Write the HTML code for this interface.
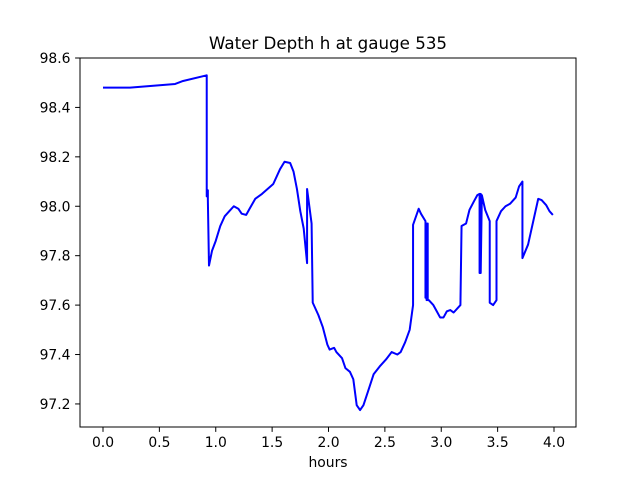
<!DOCTYPE html>
<html><head><meta charset="utf-8"><style>
body{margin:0;background:#fff;}
svg text{font-family:"DejaVu Sans","Liberation Sans",sans-serif;}
</style></head><body>
<svg id="c" width="640" height="480" xmlns="http://www.w3.org/2000/svg"></svg>
<script>
const hours=[0,0.24,0.64,0.71,0.92,0.92,0.93,0.93,0.94,0.967,1.0,1.04,1.08,1.12,1.16,1.2,1.23,1.27,1.30,1.35,1.41,1.51,1.57,1.61,1.66,1.69,1.72,1.75,1.78,1.81,1.81,1.85,1.86,1.91,1.95,1.99,2.01,2.05,2.07,2.12,2.15,2.19,2.22,2.25,2.28,2.31,2.35,2.40,2.46,2.51,2.56,2.61,2.64,2.68,2.72,2.75,2.75,2.80,2.82,2.86,2.86,2.87,2.87,2.88,2.88,2.89,2.93,2.96,2.99,3.02,3.05,3.08,3.11,3.17,3.18,3.22,3.25,3.29,3.32,3.34,3.34,3.35,3.35,3.36,3.39,3.43,3.43,3.46,3.49,3.49,3.53,3.57,3.61,3.66,3.69,3.72,3.72,3.77,3.86,3.89,3.93,3.96,3.99];
const depth=[98.48,98.48,98.495,98.507,98.53,98.04,98.065,98.025,97.76,97.82,97.86,97.92,97.96,97.98,98.0,97.99,97.97,97.965,97.99,98.03,98.05,98.09,98.15,98.18,98.175,98.14,98.07,97.98,97.91,97.77,98.07,97.93,97.61,97.56,97.51,97.44,97.42,97.427,97.41,97.385,97.345,97.33,97.30,97.195,97.175,97.195,97.25,97.32,97.355,97.38,97.41,97.40,97.41,97.45,97.50,97.60,97.925,97.99,97.97,97.94,97.63,97.93,97.62,97.93,97.62,97.62,97.60,97.575,97.55,97.55,97.575,97.58,97.57,97.60,97.92,97.93,97.985,98.02,98.045,98.05,97.73,98.05,97.73,98.045,97.985,97.94,97.61,97.60,97.62,97.94,97.98,98.0,98.01,98.035,98.08,98.1,97.79,97.845,98.03,98.025,98.005,97.98,97.965];
const xTicks=[0,0.5,1,1.5,2,2.5,3,3.5,4];
const xTickLabels=["0.0","0.5","1.0","1.5","2.0","2.5","3.0","3.5","4.0"];
const yTicks=[97.2,97.4,97.6,97.8,98.0,98.2,98.4,98.6];
const yTickLabels=["97.2","97.4","97.6","97.8","98.0","98.2","98.4","98.6"];
const L=80,R=576,T=58,B=427;
const sx=v=>103+v*112.75;
const sy=v=>58+(98.6-v)*247.1;
const svg=document.getElementById('c');
const NS="http://www.w3.org/2000/svg";
function mk(t,a){const e=document.createElementNS(NS,t);for(const k in a)e.setAttribute(k,a[k]);svg.appendChild(e);return e;}
let d=hours.map((h,i)=>(i?'L':'M')+sx(h).toFixed(2)+','+sy(depth[i]).toFixed(2)).join(' ');
const line=mk('path',{d:d,fill:'none',stroke:'#0000ff','stroke-width':2,'stroke-linejoin':'round'});


const frame=mk('rect',{x:L,y:T,width:R-L,height:B-T,fill:'none',stroke:'#000','stroke-width':1});


xTicks.forEach((v,i)=>{
  const x=sx(v);
  const t=mk('line',{x1:x,x2:x,y1:B,y2:B+4.9,stroke:'#000','stroke-width':1});
  
  
  const tx=mk('text',{x:x,y:B+20,'text-anchor':'middle','font-size':13.9});
  tx.textContent=xTickLabels[i];
  
  
});
yTicks.forEach((v,i)=>{
  const y=sy(v);
  const t=mk('line',{x1:L-4.9,x2:L,y1:y,y2:y,stroke:'#000','stroke-width':1});
  
  
  const tx=mk('text',{x:L-9.5,y:y+5,'text-anchor':'end','font-size':13.9});
  tx.textContent=yTickLabels[i];
  
  
});
const title=mk('text',{x:(L+R)/2,y:T-9,'text-anchor':'middle','font-size':16.7});
title.textContent='Water Depth h at gauge 535';


const xl=mk('text',{x:(L+R)/2,y:B+40,'text-anchor':'middle','font-size':13.9});
xl.textContent='hours';


</script>
</body></html>
